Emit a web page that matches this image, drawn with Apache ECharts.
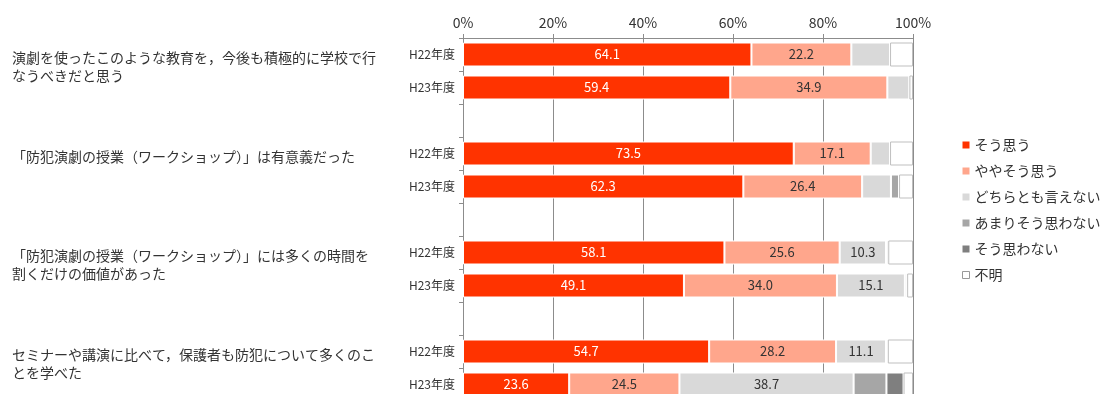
<!DOCTYPE html>
<html><head><meta charset="utf-8">
<script src="https://cdn.jsdelivr.net/npm/echarts@6/dist/echarts.min.js"></script>
<style>html,body{margin:0;padding:0;background:#fff;overflow:hidden}#c{width:1113px;height:434px}</style>
</head><body><div id="c"></div>
<script>
// slots: H22, H23, blank for each question
const yearLabels = ['H22年度','H23年度','','H22年度','H23年度','','H22年度','H23年度','','H22年度','H23年度',''];
const questions = [
  '演劇を使ったこのような教育を，今後も積極的に学校で行\nなうべきだと思う',
  '「防犯演劇の授業（ワークショップ）」は有意義だった',
  '「防犯演劇の授業（ワークショップ）」には多くの時間を\n割くだけの価値があった',
  'セミナーや講演に比べて，保護者も防犯について多くのこ\nとを学べた'
];
const seriesNames = ['そう思う','ややそう思う','どちらとも言えない','あまりそう思わない','そう思わない','不明'];
const soOmou     = [64.1, 59.4, null, 73.5, 62.3, null, 58.1, 49.1, null, 54.7, 23.6, null];
const yayaSoOmou = [22.2, 34.9, null, 17.1, 26.4, null, 25.6, 34.0, null, 28.2, 24.5, null];
const dochira    = [8.6, 4.9, null, 4.3, 6.4, null, 10.3, 15.1, null, 11.1, 38.7, null];
const amari      = [0, 0, null, 0, 1.8, null, 0.5, 0.5, null, 0.4, 7.3, null];
const omowanai   = [0, 0, null, 0, 0, null, 0, 0, null, 0, 3.8, null];
const fumei      = [5.1, 0.8, null, 5.1, 3.1, null, 5.5, 1.3, null, 5.6, 2.1, null];
const xTicks = [0, 20, 40, 60, 80, 100];

const values = [soOmou, yayaSoOmou, dochira, amari, omowanai, fumei];
const colors = ['#FF3300','#FFA68C','#D9D9D9','#A6A6A6','#7F7F7F','#FFFFFF'];
const labelColors = ['#FFFFFF','#333333','#333333','#333333','#333333','#333333'];
const FONT = '"Noto Sans CJK JP", "Noto Sans", sans-serif';
const slotIds = yearLabels.map((_, i) => 's' + i);

const chart = echarts.init(document.getElementById('c'), null, {renderer: 'canvas'});
chart.setOption({
  animation: false,
  textStyle: {fontFamily: FONT},
  grid: {left: 463, right: 200, top: 38, height: 396},
  xAxis: {
    type: 'value', position: 'top', min: xTicks[0], max: xTicks[xTicks.length - 1], interval: 20,
    axisLine: {show: true, lineStyle: {color: '#8C8C8C'}},
    axisTick: {show: true, length: 4, lineStyle: {color: '#8C8C8C'}},
    splitLine: {show: true, lineStyle: {color: '#8C8C8C', width: 1}},
    axisLabel: {formatter: '{value}%', color: '#333', fontSize: 14, margin: 8, fontFamily: FONT}
  },
  yAxis: [{
    type: 'category', inverse: true, data: slotIds,
    axisLine: {show: true, lineStyle: {color: '#8C8C8C'}},
    axisTick: {show: true, length: 4, lineStyle: {color: '#8C8C8C'}},
    axisLabel: {interval: 0, color: '#333', fontSize: 12, margin: 8, fontFamily: FONT,
      formatter: (v, i) => yearLabels[i]}
  }, {
    type: 'category', inverse: true, data: slotIds, position: 'left',
    axisLine: {show: false}, axisTick: {show: false},
    axisLabel: {interval: 0, color: '#333', fontSize: 14, lineHeight: 18, margin: 451,
      align: 'left', verticalAlign: 'top', padding: [-6, 0, 0, 0], fontFamily: FONT,
      formatter: (v, i) => (i % 3 === 0 ? questions[i / 3] : '')}
  }],
  legend: {
    orient: 'vertical', left: 957, top: 132, itemWidth: 7, itemHeight: 7, itemGap: 10,
    textStyle: {fontSize: 14, color: '#333', lineHeight: 16, fontFamily: FONT},
    data: seriesNames.map((n, k) => ({name: n, icon: 'rect',
      itemStyle: k === 5 ? {color: '#fff', borderColor: '#999', borderWidth: 1} : {color: colors[k], borderWidth: 0}}))
  },
  series: seriesNames.map((n, k) => ({
    name: n, type: 'bar', stack: 'all', yAxisIndex: 0, barWidth: 24,
    data: values[k],
    itemStyle: {color: colors[k], borderColor: k === 5 ? '#BFBFBF' : '#FFFFFF', borderWidth: 1},
    label: {show: true, position: 'inside', color: labelColors[k], fontSize: 13, fontFamily: FONT,
      formatter: p => (p.value != null && p.value >= 10 ? p.value.toFixed(1) : '')}
  }))
});
</script></body></html>
